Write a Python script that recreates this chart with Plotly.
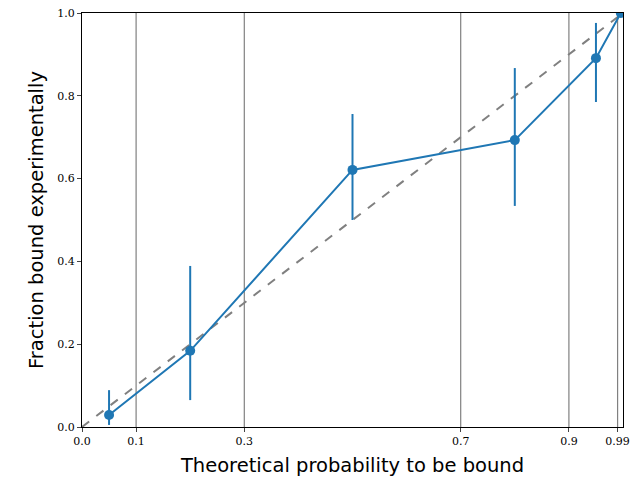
import plotly.graph_objects as go

theoretical = [0.05, 0.2, 0.5, 0.8, 0.95, 0.996]
observed = [0.029, 0.184, 0.621, 0.693, 0.891, 1.0]
err_plus = [0.060, 0.205, 0.135, 0.174, 0.085, 0.0]
err_minus = [0.024, 0.119, 0.121, 0.159, 0.106, 0.0]
vlines = [0.1, 0.3, 0.7, 0.9, 0.99]
x_ticks = [0.0, 0.1, 0.3, 0.7, 0.9, 0.99]
x_ticklabels = ["0.0", "0.1", "0.3", "0.7", "0.9", "0.99"]
y_ticks = [0.0, 0.2, 0.4, 0.6, 0.8, 1.0]

fig = go.Figure()

for v in vlines:
    fig.add_trace(go.Scatter(x=[v, v], y=[0, 1], mode="lines",
                             line=dict(color="#808080", width=1.2),
                             showlegend=False, hoverinfo="skip"))

fig.add_trace(go.Scatter(x=[0, 1], y=[0, 1], mode="lines",
                         line=dict(color="#808080", width=2, dash="dash"),
                         showlegend=False))

fig.add_trace(go.Scatter(
    x=theoretical, y=observed, mode="lines+markers",
    line=dict(color="#1f77b4", width=2),
    marker=dict(color="#1f77b4", size=10),
    error_y=dict(type="data", symmetric=False, array=err_plus, arrayminus=err_minus,
                 color="#1f77b4", thickness=2, width=0),
    showlegend=False))

fig.update_layout(
    width=630, height=480,
    margin=dict(l=82, r=7, t=13, b=53),
    plot_bgcolor="white", paper_bgcolor="white",
    xaxis=dict(range=[0, 1], tickvals=x_ticks, ticktext=x_ticklabels,
               automargin=False,
               showgrid=False, zeroline=False, showline=True, linecolor="black",
               linewidth=1, mirror=True, ticks="outside", ticklen=4,
               tickfont=dict(family="DejaVu Serif", size=11, color="black"),
               title=dict(text="Theoretical probability to be bound",
                          font=dict(family="DejaVu Sans", size=19.5, color="black"),
                          standoff=11)),
    yaxis=dict(range=[0, 1], tickvals=y_ticks, tickformat=".1f",
               automargin=False,
               showgrid=False, zeroline=False, showline=True, linecolor="black",
               linewidth=1, mirror=True, ticks="outside", ticklen=4,
               tickfont=dict(family="DejaVu Serif", size=11, color="black"),
               title=dict(text="Fraction bound experimentally",
                          font=dict(family="DejaVu Sans", size=19.5, color="black"),
                          standoff=8)),
)

fig.write_html("out.html")
